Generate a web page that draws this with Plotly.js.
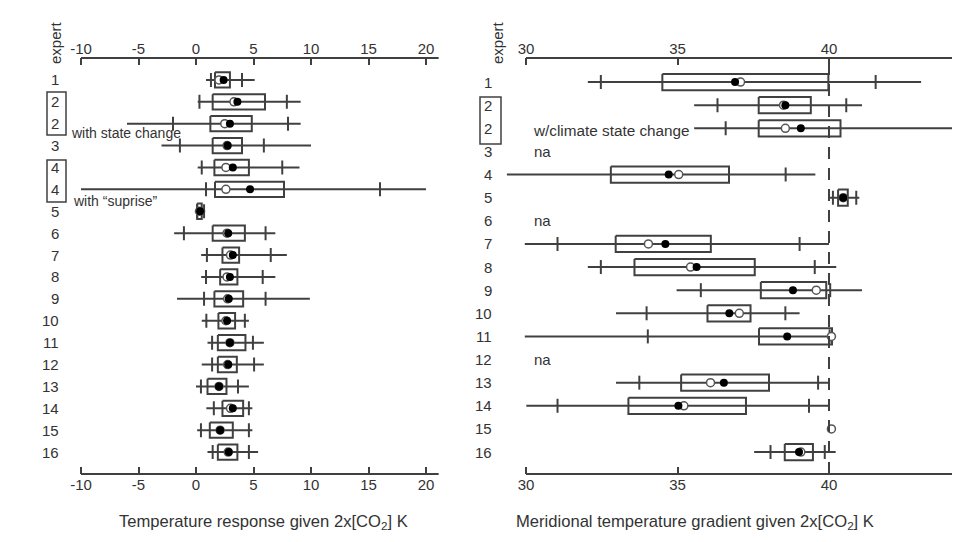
<!DOCTYPE html>
<html><head><meta charset="utf-8">
<script src="https://cdn.plot.ly/plotly-3.0.1.min.js"></script>
<style>html,body{margin:0;padding:0;background:#fff}</style>
</head><body>
<div id="chart" style="width:955px;height:542px"></div>
<script>
// ---------- Left panel: temperature response given 2x[CO2] (K) ----------
const leftLabels = ['1','2','2','3','4','4','5','6','7','8','9','10','11','12','13','14','15','16'];
const leftMin  = [0.87, 0.15, -6.0, -3.0, 0.15, -10, 0.0, -1.9, 0.45, 0.45, -1.65, 0.5, 1.0, 0.5, 0.0, 0.9, 0.1, 1.0];
const leftMax  = [5.1, 9.1, 9.1, 10.0, 9.0, 20.0, 0.8, 6.9, 7.9, 6.9, 9.9, 4.6, 5.9, 5.9, 4.6, 4.9, 4.9, 5.4];
const leftP5   = [1.3, 0.3, -2.0, -1.4, 0.5, 0.87, 0.1, -1.05, 0.95, 0.87, 0.7, 0.9, 1.4, 1.4, 0.43, 1.55, 0.43, 1.45];
const leftP95  = [4.0, 7.9, 8.0, 5.9, 7.5, 16.0, 0.7, 6.05, 6.5, 5.8, 6.05, 4.25, 4.95, 5.05, 3.65, 4.6, 4.6, 4.6];
const leftQ1   = [1.65, 1.45, 1.25, 1.45, 1.6, 1.65, 0.1, 1.45, 2.3, 2.1, 1.6, 1.95, 1.9, 1.9, 1.0, 2.3, 1.2, 1.9];
const leftQ3   = [2.95, 6.0, 4.85, 4.0, 4.6, 7.65, 0.5, 4.25, 3.75, 3.6, 4.1, 3.4, 4.3, 3.55, 2.65, 4.1, 3.2, 3.6];
const leftFilled = [2.4, 3.6, 2.95, 2.75, 3.2, 4.7, 0.35, 2.8, 3.2, 2.95, 2.85, 2.7, 2.95, 2.8, 2.0, 3.2, 2.1, 2.85];
const leftOpen   = [2.0, 3.3, 2.5, 2.7, 2.6, 2.6, 0.3, 2.7, 3.0, 2.7, 2.75, 2.6, 2.95, 2.75, 2.0, 3.0, 2.1, 2.8];
const leftTicks = [-10, -5, 0, 5, 10, 15, 20];
const leftTickText = ['-10', '-5', '0', '5', '10', '15', '20'];

// ---------- Right panel: meridional temperature gradient given 2x[CO2] (K) ----------
const rightLabels = ['1','2','2','3','4','5','6','7','8','9','10','11','12','13','14','15','16'];
const rightMin  = [32.04, 35.55, 35.55, null, 29.37, 40.03, null, 29.96, 32.04, 34.97, 32.97, 29.96, null, 32.97, 30.01, null, 37.53];
const rightMax  = [43.04, 41.09, 44.5, null, 39.55, 41.0, null, 40.0, 40.24, 41.09, 39.03, 40.1, null, 40.0, 40.0, null, 40.22];
const rightP5   = [32.47, 36.32, 36.59, null, null, 40.13, null, 31.04, 32.47, 35.77, 33.98, 34.02, null, 33.74, 31.04, null, 38.07];
const rightP95  = [41.54, 40.57, null, null, 38.57, 40.9, null, 39.03, 39.53, 40.04, 38.56, 40.02, null, 39.64, 39.34, null, 39.86];
const rightQ1   = [34.5, 37.68, 37.68, null, 32.8, 40.3, null, 32.96, 33.58, 37.75, 35.99, 37.69, null, 35.12, 33.38, null, 38.54];
const rightQ3   = [39.98, 39.4, 40.38, null, 36.7, 40.62, null, 36.1, 37.55, 39.91, 37.41, 40.1, null, 38.02, 37.26, null, 39.47];
const rightFilled = [36.9, 38.56, 39.07, null, 34.71, 40.47, null, 34.6, 35.63, 38.81, 36.71, 38.62, null, 36.53, 35.03, null, 39.01];
const rightOpen   = [37.08, 38.5, 38.56, null, 35.04, 40.47, null, 34.04, 35.43, 39.58, 37.04, 40.08, null, 36.09, 35.21, 40.08, 39.07];
const rightNA = ['na', 'na', 'na'];
const rightNARows = [3, 6, 12];
const rightTicks = [30, 35, 40];
const rightTickText = ['30', '35', '40'];
const rightRef = 40;

// ---------- geometry / style ----------
const W = 955, H = 542;
const INK = '#404040', TXT = '#333';
const FONT = 'Liberation Sans, Arial, sans-serif';
const yTop = 1 - 58 / H, yBot = 1 - 474 / H;
const BOXH = 0.35;

function panelTraces(mn, mx, p5, p95, q1, q3, filled, open, xa, ya) {
  const wx = [], wy = [], tx = [], ty = [], bx = [], by = [], ox = [], oy = [], fx = [], fy = [];
  for (let i = 0; i < mn.length; i++) {
    if (mn[i] !== null && mx[i] !== null) { wx.push(mn[i], mx[i], null); wy.push(i, i, null); }
    if (p5[i] !== null) { tx.push(p5[i]); ty.push(i); }
    if (p95[i] !== null) { tx.push(p95[i]); ty.push(i); }
    if (q1[i] !== null && q3[i] !== null) {
      bx.push(q1[i], q3[i], q3[i], q1[i], q1[i], null);
      by.push(i - BOXH, i - BOXH, i + BOXH, i + BOXH, i - BOXH, null);
    }
    if (open[i] !== null) { ox.push(open[i]); oy.push(i); }
    if (filled[i] !== null) { fx.push(filled[i]); fy.push(i); }
  }
  const base = { type: 'scatter', xaxis: xa, yaxis: ya, hoverinfo: 'skip', showlegend: false };
  return [
    Object.assign({}, base, { x: wx, y: wy, mode: 'lines', line: { color: INK, width: 2 } }),
    Object.assign({}, base, { x: bx, y: by, mode: 'lines', line: { color: INK, width: 2 } }),
    Object.assign({}, base, { x: tx, y: ty, mode: 'markers', marker: { symbol: 'line-ns', size: 10, line: { color: INK, width: 2 } } }),
    Object.assign({}, base, { x: ox, y: oy, mode: 'markers', marker: { symbol: 'circle', size: 8, color: '#fff', line: { color: '#555', width: 1.5 } } }),
    Object.assign({}, base, { x: fx, y: fy, mode: 'markers', marker: { symbol: 'circle', size: 8, color: '#000', line: { width: 0 } } })
  ];
}

const traces = []
  .concat(panelTraces(leftMin, leftMax, leftP5, leftP95, leftQ1, leftQ3, leftFilled, leftOpen, 'x', 'y'))
  .concat(panelTraces(rightMin, rightMax, rightP5, rightP95, rightQ1, rightQ3, rightFilled, rightOpen, 'x3', 'y2'));
// invisible anchors so the top axes are drawn
traces.push({ type: 'scatter', x: [0], y: [0], xaxis: 'x2', yaxis: 'y', mode: 'markers', marker: { opacity: 0 }, hoverinfo: 'skip', showlegend: false });
traces.push({ type: 'scatter', x: [35], y: [0], xaxis: 'x4', yaxis: 'y2', mode: 'markers', marker: { opacity: 0 }, hoverinfo: 'skip', showlegend: false });

const axCommon = {
  showgrid: false, zeroline: false, showline: false, ticks: 'inside', ticklen: 7, tickwidth: 2,
  tickcolor: INK, tickfont: { size: 15, color: TXT, family: FONT }, tickmode: 'array', fixedrange: true
};
const lRange = [-10.6, 21.2], rRange = [29.3, 44.06];
const lDom = [74.1 / W, 439.8 / W], rDom = [504.8 / W, 952 / W];

const annotations = [];
leftLabels.forEach((t, i) => annotations.push({ text: t, xref: 'paper', yref: 'y', x: 61 / W, y: i, xanchor: 'right', yanchor: 'middle', showarrow: false, font: { size: 15, color: TXT, family: FONT } }));
rightLabels.forEach((t, i) => annotations.push({ text: t, xref: 'paper', yref: 'y2', x: 494 / W, y: i, xanchor: 'right', yanchor: 'middle', showarrow: false, font: { size: 15, color: TXT, family: FONT } }));
rightNARows.forEach((r, k) => annotations.push({ text: rightNA[k], xref: 'x3', yref: 'y2', x: 30.2, y: r, xanchor: 'left', yanchor: 'middle', showarrow: false, font: { size: 15, color: TXT, family: FONT } }));
const txt = (text, x, y, xanchor, size, extra) => Object.assign({ text, xref: 'paper', yref: 'paper', x: x / W, y: 1 - y / H, xanchor, yanchor: 'middle', showarrow: false, font: { size, color: TXT, family: FONT } }, extra || {});
annotations.push(txt('expert', 55, 43, 'center', 15, { textangle: -90 }));
annotations.push(txt('expert', 497, 43, 'center', 15, { textangle: -90 }));
annotations.push(txt('with state change', 69, 133, 'left', 14));
annotations.push(txt('with \u201csuprise\u201d', 71, 201, 'left', 14));
annotations.push(txt('w/climate state change', 531, 131, 'left', 15.3));
annotations.push(txt('Temperature response given 2x[CO<sub>2</sub>] K', 263, 522, 'center', 16.6));
annotations.push(txt('Meridional temperature gradient given 2x[CO<sub>2</sub>] K', 695, 522, 'center', 16.6));

const pxRect = (x0, y0, x1, y1) => ({ type: 'rect', xref: 'paper', yref: 'paper', x0: x0 / W, x1: x1 / W, y0: 1 - y0 / H, y1: 1 - y1 / H, line: { color: INK, width: 1.5 } });
const shapes = [
  { type: 'line', xref: 'x', yref: 'paper', x0: leftTicks[0], x1: 21.1, y0: yTop, y1: yTop, line: { color: INK, width: 2 } },
  { type: 'line', xref: 'x', yref: 'paper', x0: leftTicks[0], x1: 21.1, y0: yBot, y1: yBot, line: { color: INK, width: 2 } },
  { type: 'line', xref: 'x3', yref: 'paper', x0: rightTicks[0], x1: rRange[1], y0: yTop, y1: yTop, line: { color: INK, width: 2 } },
  { type: 'line', xref: 'x3', yref: 'paper', x0: rightTicks[0], x1: rRange[1], y0: yBot, y1: yBot, line: { color: INK, width: 2 } },
  { type: 'line', xref: 'x3', yref: 'paper', x0: rightRef, x1: rightRef, y0: yBot, y1: yTop, line: { color: INK, width: 2, dash: '12px,9px' } },
  pxRect(47, 92, 66, 135),
  pxRect(47, 160, 66, 202),
  pxRect(480, 97, 501, 144)
];

const layout = {
  width: W, height: H, margin: { l: 0, r: 0, t: 0, b: 0 },
  paper_bgcolor: '#fff', plot_bgcolor: 'rgba(0,0,0,0)', showlegend: false,
  font: { family: FONT, color: TXT },
  xaxis: Object.assign({}, axCommon, { domain: lDom, range: lRange, tickvals: leftTicks, ticktext: leftTickText, anchor: 'y' }),
  xaxis2: Object.assign({}, axCommon, { overlaying: 'x', side: 'top', range: lRange, tickvals: leftTicks, ticktext: leftTickText, anchor: 'y' }),
  xaxis3: Object.assign({}, axCommon, { domain: rDom, range: rRange, tickvals: rightTicks, ticktext: rightTickText, anchor: 'y2' }),
  xaxis4: Object.assign({}, axCommon, { overlaying: 'x3', side: 'top', range: rRange, tickvals: rightTicks, ticktext: rightTickText, anchor: 'y2' }),
  yaxis: { domain: [yBot, yTop], range: [18.0, -1.0], visible: false, fixedrange: true, anchor: 'x' },
  yaxis2: { domain: [yBot, yTop], range: [16.95, -1.04], visible: false, fixedrange: true, anchor: 'x3' },
  annotations, shapes
};

Plotly.newPlot('chart', traces, layout, { displayModeBar: false, staticPlot: true });
</script>
</body></html>
